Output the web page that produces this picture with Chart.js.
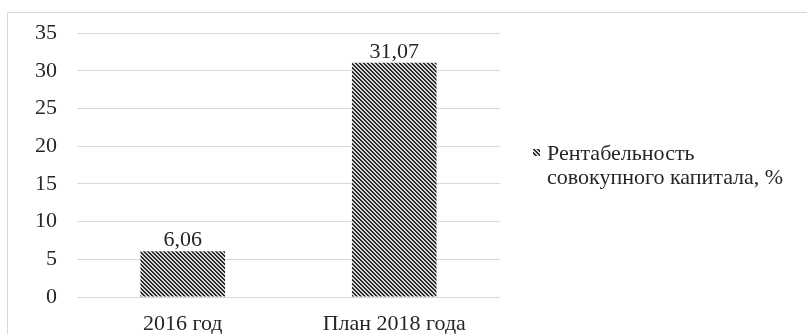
<!DOCTYPE html>
<html>
<head>
<meta charset="utf-8">
<script src="https://cdn.jsdelivr.net/npm/chart.js@4.4.0/dist/chart.umd.min.js"></script>
<style>
  html, body { margin: 0; padding: 0; background: #ffffff; }
  #wrap { width: 807px; height: 334px; position: relative; }
  #probe { position: absolute; left: -9999px; top: 0; font-family: "Liberation Serif"; font-size: 22px; }
</style>
</head>
<body>
<div id="probe">Рентабельность 2016</div>
<div id="wrap"><canvas id="c" width="807" height="334"></canvas></div>
<script>
const categories = ['2016 год', 'План 2018 года'];
const seriesValues = [6.06, 31.07];
const seriesName = 'Рентабельность совокупного капитала, %';
const legendLines = ['Рентабельность', 'совокупного капитала, %'];
const yTicks = [0, 5, 10, 15, 20, 25, 30, 35];

const FONT = '"Liberation Serif", "DejaVu Serif", serif';
const FSIZE = 22;
const TEXT = '#262626';

function makePattern() {
  const t = document.createElement('canvas');
  t.width = 4; t.height = 4;
  const g = t.getContext('2d');
  g.fillStyle = '#d4d4d4';
  g.fillRect(0, 0, 4, 4);
  g.fillStyle = '#2b2b2b';
  for (let i = 0; i < 4; i++) {
    g.fillRect(i, i, 1, 1);
    g.fillRect((i + 1) % 4, i, 1, 1);
  }
  return document.createElement('canvas').getContext('2d').createPattern(t, 'repeat');
}

const framePlugin = {
  id: 'frame',
  beforeDraw(chart) {
    const ctx = chart.ctx;
    ctx.save();
    ctx.fillStyle = '#ffffff';
    ctx.fillRect(0, 0, chart.width, chart.height);
    ctx.strokeStyle = '#d9d9d9';
    ctx.lineWidth = 1;
    ctx.strokeRect(7.5, 12.5, chart.width + 10, chart.height + 10);
    ctx.restore();
  }
};

const valueLabels = {
  id: 'valueLabels',
  afterDatasetsDraw(chart) {
    const ctx = chart.ctx;
    const meta = chart.getDatasetMeta(0);
    ctx.save();
    ctx.font = FSIZE + 'px ' + FONT;
    ctx.fillStyle = TEXT;
    ctx.textAlign = 'center';
    ctx.textBaseline = 'alphabetic';
    meta.data.forEach((bar, i) => {
      const txt = seriesValues[i].toFixed(2).replace('.', ',');
      ctx.fillText(txt, bar.x, bar.y - 5);
    });
    ctx.restore();
  }
};

const sideLegend = {
  id: 'sideLegend',
  afterDraw(chart) {
    const ctx = chart.ctx;
    ctx.save();
    ctx.fillStyle = makePattern();
    ctx.fillRect(533, 149, 7, 7);
    ctx.font = FSIZE + 'px ' + FONT;
    ctx.fillStyle = TEXT;
    ctx.textAlign = 'left';
    ctx.textBaseline = 'alphabetic';
    ctx.fillText(legendLines[0], 547, 160);
    ctx.fillText(legendLines[1], 547, 184);
    ctx.restore();
  }
};

function build() {
  new Chart(document.getElementById('c'), {
    type: 'bar',
    data: {
      labels: categories,
      datasets: [{
        label: seriesName,
        data: seriesValues,
        backgroundColor: makePattern(),
        borderWidth: 0,
        barPercentage: 0.4,
        categoryPercentage: 1.0
      }]
    },
    options: {
      responsive: false,
      animation: false,
      devicePixelRatio: 1,
      layout: { padding: { left: 0, top: 31, right: 307, bottom: 0 } },
      plugins: {
        legend: { display: false },
        tooltip: { enabled: false }
      },
      scales: {
        x: {
          grid: { display: false, drawTicks: false },
          border: { display: false },
          ticks: { font: { family: FONT, size: FSIZE }, color: TEXT, padding: 14, maxRotation: 0 },
          afterFit(scale) { scale.height = 37; }
        },
        y: {
          min: 0,
          max: 35,
          afterBuildTicks(scale) { scale.ticks = yTicks.map(v => ({ value: v })); },
          grid: { color: '#d9d9d9', lineWidth: 1, drawTicks: false },
          border: { display: false },
          ticks: { font: { family: FONT, size: FSIZE }, color: TEXT, padding: 20 },
          afterFit(scale) { scale.width = 77; }
        }
      }
    },
    plugins: [framePlugin, valueLabels, sideLegend]
  });
}

if (document.fonts && document.fonts.load) {
  document.fonts.load(FSIZE + 'px "Liberation Serif"').then(build, build);
} else {
  build();
}
</script>
</body>
</html>
